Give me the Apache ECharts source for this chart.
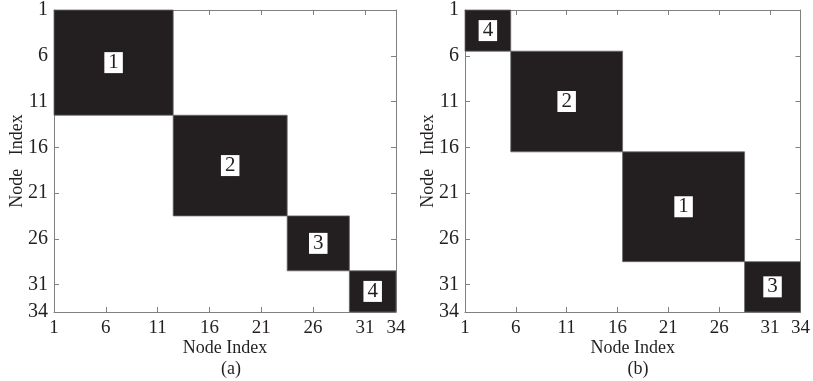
<!DOCTYPE html>
<html>
<head>
<meta charset="utf-8">
<script src="https://cdn.jsdelivr.net/npm/echarts@6/dist/echarts.min.js"></script>
<style>html,body{margin:0;padding:0;background:#fff}#c{width:813px;height:381px}</style>
</head>
<body>
<div id="c"></div>
<script>
// Axis ticks
const tickValues = [1, 6, 11, 16, 21, 26, 31, 34];
const axisMin = 1, axisMax = 34;
// Panel (a) community blocks (node index ranges)
const labelsA = [1, 2, 3, 4];
const startA = [1, 13, 24, 30];
const endA = [12, 23, 29, 34];
// Panel (b) community blocks
const labelsB = [4, 2, 1, 3];
const startB = [1, 6, 17, 29];
const endB = [5, 16, 28, 34];
const captions = ['(a)', '(b)'];
const xTitle = 'Node Index';
const yTitle = 'Node   Index';

const FONT = '"Liberation Serif", "DejaVu Serif", serif';
const INK = '#231f20';
const AX = '#808080';

function blocks(labels, starts, ends) {
  return labels.map((l, i) => [starts[i], ends[i], l]);
}

function renderItem(params, api) {
  const s = api.value(0), e = api.value(1), lab = api.value(2);
  const lo = Math.max(s - 0.5, axisMin), hi = Math.min(e + 0.5, axisMax);
  const p0 = api.coord([lo, lo]);
  const p1 = api.coord([hi, hi]);
  const x = Math.min(p0[0], p1[0]), y = Math.min(p0[1], p1[1]);
  const w = Math.abs(p1[0] - p0[0]), h = Math.abs(p1[1] - p0[1]);
  return {
    type: 'group',
    children: [
      { type: 'rect', shape: { x: x, y: y, width: w, height: h },
        style: { fill: INK, stroke: '#6a6a6a', lineWidth: 0.8 } },
      { type: 'text', x: x + w / 2, y: y + h / 2,
        style: { text: String(lab), font: '21px ' + FONT, fill: INK,
          backgroundColor: '#fff', padding: [0, 4, 0, 4], lineHeight: 21,
          align: 'center', verticalAlign: 'middle' } }
    ]
  };
}

const grids = [
  { left: 54, top: 10, width: 342, height: 302 },
  { left: 465, top: 10, width: 338, height: 302 }
];

const xAxes = [], yAxes = [], series = [];
grids.forEach((g, gi) => {
  const common = { type: 'value', min: axisMin, max: axisMax, gridIndex: gi,
    splitLine: { show: false },
    axisLine: { show: true, onZero: false, lineStyle: { color: AX, width: 1 } },
    axisTick: { show: true, inside: true, length: 5, customValues: tickValues, lineStyle: { color: AX } } };
  xAxes.push(Object.assign({}, common, { position: 'bottom',
    axisLabel: { customValues: tickValues, margin: 7, color: INK, fontFamily: FONT, fontSize: 19 },
    name: xTitle, nameLocation: 'middle', nameGap: 27, nameMoveOverlap: false,
    nameTextStyle: { color: INK, fontFamily: FONT, fontSize: 18 } }));
  xAxes.push(Object.assign({}, common, { position: 'top', axisLabel: { show: false } }));
  yAxes.push(Object.assign({}, common, { position: 'left', inverse: true,
    axisLabel: { customValues: tickValues, margin: 6, color: INK, fontFamily: FONT, fontSize: 20 },
    name: yTitle, nameLocation: 'middle', nameGap: 28, nameMoveOverlap: false,
    nameTextStyle: { color: INK, fontFamily: FONT, fontSize: 18 } }));
  yAxes.push(Object.assign({}, common, { position: 'right', inverse: true, axisLabel: { show: false } }));
});

series.push({ type: 'custom', xAxisIndex: 0, yAxisIndex: 0, renderItem: renderItem,
  encode: { x: [0, 1], y: [0, 1] }, data: blocks(labelsA, startA, endA), silent: true });
series.push({ type: 'custom', xAxisIndex: 2, yAxisIndex: 2, renderItem: renderItem,
  encode: { x: [0, 1], y: [0, 1] }, data: blocks(labelsB, startB, endB), silent: true });

const chart = echarts.init(document.getElementById('c'), null, { renderer: 'canvas' });
chart.setOption({
  animation: false,
  backgroundColor: '#fff',
  grid: grids,
  xAxis: xAxes,
  yAxis: yAxes,
  title: captions.map((t, i) => ({ text: t, left: (i === 0 ? 226 : 633), top: 355,
    textAlign: 'center',
    textStyle: { color: INK, fontFamily: FONT, fontSize: 18, fontWeight: 'normal' } })),
  series: series
});
</script>
</body>
</html>
